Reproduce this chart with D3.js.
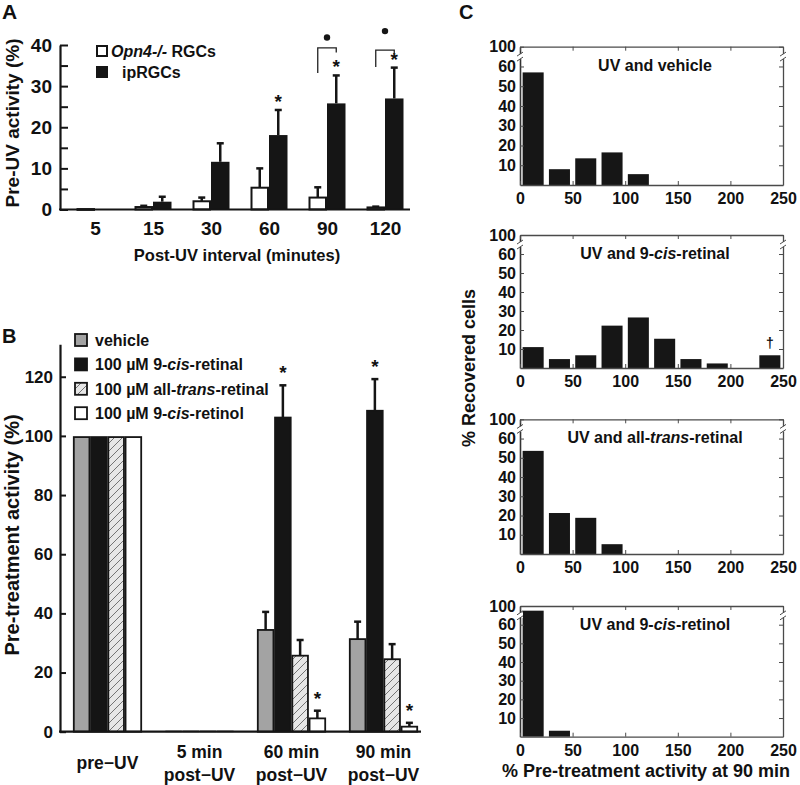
<!DOCTYPE html>
<html><head><meta charset="utf-8">
<script src="https://cdn.jsdelivr.net/npm/d3@7"></script>
<style>
body{margin:0;background:#fff}
svg text{font-family:"Liberation Sans",Arial,Helvetica,sans-serif;font-weight:bold;fill:#111}
</style></head><body>
<svg id="fig" width="800" height="785" xmlns="http://www.w3.org/2000/svg"></svg>
<script>
// ---------- Panel A data ----------
const aIntervals = ["5","15","30","60","90","120"];
const aSeries = ["Opn4","ipRGC"];
const aOpn4Mean = [0.1,0.6,2.0,5.3,2.9,0.5];
const aOpn4Err  = [0,0.3,0.9,4.7,2.5,0.2];
const aIpMean   = [0.1,1.9,11.6,18.1,25.8,27.0];
const aIpErr    = [0,1.2,4.5,6.1,6.8,7.5];
const aTicks    = [0,5,10,15,20,25,30,35,40];
const aStars    = ["60","90","120"];
const aBrackets = ["90","120"];

// ---------- Panel B data ----------
const bKeys   = ["pre","5","60","90"];
const bLabels = [["pre\u2212UV"],["5 min","post\u2212UV"],["60 min","post\u2212UV"],["90 min","post\u2212UV"]];
const bSeries = ["vehicle","cisRetinal","transRetinal","cisRetinol"];
const bVehicle      = [99.6,0.2,34.4,31.3];
const bVehicleErr   = [0,0,6.1,5.9];
const bCisRetinal   = [99.6,0.2,106.2,108.5];
const bCisRetinalErr= [0,0,10.9,10.7];
const bTransRetinal = [99.6,0.2,25.7,24.5];
const bTransRetinalErr=[0,0,5.3,5.1];
const bCisRetinol   = [99.6,0.2,4.5,1.7];
const bCisRetinolErr= [0,0,2.6,1.3];
const bTicks = [0,20,40,60,80,100,120];
const bStars = [["cisRetinal","60"],["cisRetinal","90"],["cisRetinol","60"],["cisRetinol","90"]];

// ---------- Panel C data ----------
const cBinCenters = [12.5,37.5,62.5,87.5,112.5,137.5,162.5,187.5,212.5,237.5];
const cVehicle      = [57,8,13.5,16.5,5.5,0,0,0,0,0];
const cCisRetinal   = [11,4.7,6.7,22.3,26.6,15.4,4.7,2.4,0,6.7];
const cTransRetinal = [53.6,21.3,18.8,5.1,0,0,0,0,0,0];
const cCisRetinol   = [90,3.2,0,0,0,0,0,0,0,0];
const cXTicks = [0,50,100,150,200,250];
const cYTicks = [10,20,30,40,50,60,100];

const svg = d3.select("#fig");
svg.append("rect").attr("width",800).attr("height",785).attr("fill","#fff");

const defs = svg.append("defs");
const pat = defs.append("pattern").attr("id","hatch").attr("patternUnits","userSpaceOnUse")
  .attr("width",8).attr("height",8);
pat.append("rect").attr("width",8).attr("height",8).attr("fill","#e6e6e6");
pat.append("path").attr("d","M-2,2 L2,-2 M0,8 L8,0 M6,10 L10,6").attr("stroke","#555").attr("stroke-width",0.8);

function rich(textSel, parts){
  parts.forEach(p=>{
    const t = textSel.append("tspan").text(p[0]);
    if(p[1]) t.attr("font-style","italic");
  });
  return textSel;
}
const INK = "#151515";

// ================= PANEL A =================
const gA = svg.append("g");
const xA = d3.scalePoint().domain(aIntervals).range([66,414]).padding(0.5);
const xAin = d3.scaleBand().domain(aSeries).range([-18.5,18.5]);
const yA = d3.scaleLinear().domain([0,40]).range([209.5,45]);

const aData = aIntervals.map((k,i)=>[
  {k, s:"Opn4", m:aOpn4Mean[i], e:aOpn4Err[i]},
  {k, s:"ipRGC", m:aIpMean[i], e:aIpErr[i]}
]).flat();

aData.filter(d=>d.e>0).forEach(d=>{
  const cx = xA(d.k)+xAin(d.s)+xAin.bandwidth()/2;
  gA.append("line").attr("x1",cx).attr("x2",cx).attr("y1",yA(d.m)).attr("y2",yA(d.m+d.e))
    .attr("stroke",INK).attr("stroke-width",2.5);
  gA.append("line").attr("x1",cx-3.5).attr("x2",cx+3.5).attr("y1",yA(d.m+d.e)).attr("y2",yA(d.m+d.e))
    .attr("stroke",INK).attr("stroke-width",2.5);
});
gA.selectAll("rect.bar").data(aData).join("rect").attr("class","bar")
  .attr("x",d=>xA(d.k)+xAin(d.s)+(d.s==="Opn4"?1:0))
  .attr("width",d=>xAin.bandwidth()-(d.s==="Opn4"?2:0))
  .attr("y",d=>yA(d.m))
  .attr("height",d=>Math.max(0.8,yA(0)-yA(d.m)))
  .attr("fill",d=>d.s==="Opn4"?"#fff":INK)
  .attr("stroke",d=>d.s==="Opn4"?INK:"none")
  .attr("stroke-width",2);

const axA = gA.append("g").attr("transform","translate(60,0)")
  .call(d3.axisLeft(yA).tickValues(aTicks).tickSize(-8).tickSizeOuter(0).tickPadding(8)
    .tickFormat(d=>d%10===0?d:""));
axA.select(".domain").attr("stroke",INK).attr("stroke-width",2.2);
axA.selectAll(".tick line").attr("stroke",INK).attr("stroke-width",2);
axA.selectAll("text").attr("font-size",19);

const axAx = gA.append("g").attr("transform",`translate(0,${yA(0)})`)
  .call(d3.axisBottom(xA).tickSize(0).tickPadding(12));
axAx.select(".domain").remove();
axAx.selectAll("text").attr("font-size",19);
gA.append("line").attr("x1",59).attr("x2",410).attr("y1",yA(0)).attr("y2",yA(0))
  .attr("stroke",INK).attr("stroke-width",2.2);

aStars.forEach(k=>{
  const i = aIntervals.indexOf(k);
  const cx = xA(k)+xAin("ipRGC")+xAin.bandwidth()/2;
  gA.append("text").attr("x",cx).attr("y",yA(aIpMean[i]+aIpErr[i])-13+11)
    .attr("text-anchor","middle").attr("font-size",19).text("*");
});
aBrackets.forEach((k,j)=>{
  const i = aIntervals.indexOf(k);
  const x1 = xA(k)+xAin("Opn4")+xAin.bandwidth()/2;
  const x2 = xA(k)+xAin("ipRGC")+xAin.bandwidth()/2;
  const top = yA(aIpMean[i]+aIpErr[i]) - (j===0?27.5:17.5);
  gA.append("path").attr("d",`M${x1},${top+25 - (j===0?0:8)} V${top} H${x2} V${top+4.5}`)
    .attr("fill","none").attr("stroke","#222").attr("stroke-width",1.3);
  gA.append("circle").attr("cx",(x1+x2)/2).attr("cy",top-(j===0?10.5:19)).attr("r",3.2).attr("fill",INK);
});

gA.append("rect").attr("x",97).attr("y",46).attr("width",10).attr("height",10)
  .attr("fill","#fff").attr("stroke",INK).attr("stroke-width",2);
gA.append("rect").attr("x",96).attr("y",66).attr("width",12).attr("height",12).attr("fill",INK);
rich(gA.append("text").attr("x",111).attr("y",57).attr("font-size",16),[["Opn4-/-",true],[" RGCs",false]]);
gA.append("text").attr("x",122).attr("y",78).attr("font-size",16).text("ipRGCs");

gA.append("text").attr("x",237).attr("y",261).attr("text-anchor","middle").attr("font-size",16.5)
  .text("Post-UV interval (minutes)");
gA.append("text").attr("transform","translate(19,123) rotate(-90)").attr("text-anchor","middle")
  .attr("font-size",19).text("Pre-UV activity (%)");
svg.append("text").attr("x",2).attr("y",19).attr("font-size",21).text("A");

// ================= PANEL B =================
const gB = svg.append("g");
const xB = d3.scalePoint().domain(bKeys).range([61.5,429.5]).padding(0.5);
const xBin = d3.scaleBand().domain(bSeries).range([-34.5,34.5]);
const yB = d3.scaleLinear().domain([0,131]).range([731.7,731.7-131*2.958]);
const bMeans = {vehicle:bVehicle, cisRetinal:bCisRetinal, transRetinal:bTransRetinal, cisRetinol:bCisRetinol};
const bErrs  = {vehicle:bVehicleErr, cisRetinal:bCisRetinalErr, transRetinal:bTransRetinalErr, cisRetinol:bCisRetinolErr};
const bFill  = {vehicle:"#a3a3a3", cisRetinal:INK, transRetinal:"url(#hatch)", cisRetinol:"#fff"};
const bData = bKeys.map((k,i)=>bSeries.map(s=>({k,s,m:bMeans[s][i],e:bErrs[s][i]}))).flat();

bData.filter(d=>d.e>0).forEach(d=>{
  const cx = xB(d.k)+xBin(d.s)+xBin.bandwidth()/2;
  gB.append("line").attr("x1",cx).attr("x2",cx).attr("y1",yB(d.m)).attr("y2",yB(d.m+d.e))
    .attr("stroke",INK).attr("stroke-width",2.5);
  gB.append("line").attr("x1",cx-3.5).attr("x2",cx+3.5).attr("y1",yB(d.m+d.e)).attr("y2",yB(d.m+d.e))
    .attr("stroke",INK).attr("stroke-width",2.5);
});
gB.selectAll("rect.bar").data(bData).join("rect").attr("class","bar")
  .attr("x",d=>xB(d.k)+xBin(d.s)+0.8)
  .attr("width",xBin.bandwidth()-1.6)
  .attr("y",d=>yB(d.m))
  .attr("height",d=>yB(0)-yB(d.m))
  .attr("fill",d=>bFill[d.s])
  .attr("stroke",INK).attr("stroke-width",d=>d.m>1?1.8:0.8);

const axB = gB.append("g").attr("transform","translate(60,0)")
  .call(d3.axisLeft(yB).tickValues(bTicks).tickSize(-6).tickSizeOuter(0).tickPadding(7));
axB.select(".domain").attr("stroke",INK).attr("stroke-width",2.2);
axB.selectAll(".tick line").attr("stroke",INK).attr("stroke-width",2);
axB.selectAll("text").attr("font-size",17);
gB.append("line").attr("x1",59).attr("x2",421).attr("y1",yB(0)).attr("y2",yB(0))
  .attr("stroke",INK).attr("stroke-width",2.2);

bKeys.forEach((k,i)=>{
  const lines = bLabels[i];
  lines.forEach((l,j)=>{
    const y = lines.length===1 ? 769 : 758 + j*23;
    gB.append("text").attr("x",xB(k)).attr("y",y).attr("text-anchor","middle")
      .attr("font-size",17.5).text(l);
  });
});
bStars.forEach(([s,k])=>{
  const i = bKeys.indexOf(k);
  const cx = xB(k)+xBin(s)+xBin.bandwidth()/2;
  gB.append("text").attr("x",cx).attr("y",yB(bMeans[s][i]+bErrs[s][i])-17+11)
    .attr("text-anchor","middle").attr("font-size",19).text("*");
});

const bLegend = [
  ["vehicle",[["vehicle",false]]],
  ["cisRetinal",[["100 \u00b5M 9-",false],["cis",true],["-retinal",false]]],
  ["transRetinal",[["100 \u00b5M all-",false],["trans",true],["-retinal",false]]],
  ["cisRetinol",[["100 \u00b5M 9-",false],["cis",true],["-retinol",false]]]
];
bLegend.forEach(([s,parts],i)=>{
  const cy = 340 + i*24.4;
  gB.append("rect").attr("x",75).attr("y",cy-6).attr("width",12).attr("height",12)
    .attr("fill",bFill[s]).attr("stroke",INK).attr("stroke-width",1.8);
  rich(gB.append("text").attr("x",95).attr("y",cy+6).attr("font-size",16),parts);
});
gB.append("text").attr("transform","translate(19,535) rotate(-90)").attr("text-anchor","middle")
  .attr("font-size",20).text("Pre-treatment activity (%)");
svg.append("text").attr("x",2).attr("y",343).attr("font-size",20).text("B");

// ================= PANEL C =================
const xC = d3.scaleLinear().domain([0,250]).range([520,783]);
const cTops  = [46.7,235,419.3,606];
const cBases = [185,368,554,736.7];
const cPanels = [
  {vals:cVehicle, title:[["UV and vehicle",false]]},
  {vals:cCisRetinal, title:[["UV and 9-",false],["cis",true],["-retinal",false]], dagger:9},
  {vals:cTransRetinal, title:[["UV and all-",false],["trans",true],["-retinal",false]]},
  {vals:cCisRetinol, title:[["UV and 9-",false],["cis",true],["-retinol",false]]}
];
const AX = "#4a4a4a";
cPanels.forEach((p,pi)=>{
  const g = svg.append("g");
  const top = cTops[pi], base = cBases[pi];
  const y60 = base - 0.857*(base-top);
  const yC = d3.scaleLinear().domain([0,60,100]).range([base,y60,top]);
  const bw = xC(20)-xC(0);
  g.selectAll("rect.bar").data(p.vals.map((v,i)=>({c:cBinCenters[i],v})).filter(d=>d.v>0))
    .join("rect").attr("class","bar")
    .attr("x",d=>xC(d.c)-bw/2).attr("width",bw)
    .attr("y",d=>yC(d.v)).attr("height",d=>base-yC(d.v))
    .attr("fill","#161616");
  const axL = g.append("g").attr("transform","translate(520,0)")
    .call(d3.axisLeft(yC).tickValues(cYTicks).tickSize(-4).tickSizeOuter(0).tickPadding(4));
  const axR = g.append("g").attr("transform","translate(783,0)")
    .call(d3.axisRight(yC).tickValues(cYTicks).tickSize(-4).tickSizeOuter(0).tickFormat(""));
  const axBt = g.append("g").attr("transform",`translate(0,${base})`)
    .call(d3.axisBottom(xC).tickValues(cXTicks).tickSize(-4).tickSizeOuter(0).tickPadding(7.5));
  const axT = g.append("g").attr("transform",`translate(0,${top})`)
    .call(d3.axisTop(xC).tickValues(cXTicks).tickSize(-4).tickSizeOuter(0).tickFormat(""));
  [axL,axR,axBt,axT].forEach(a=>{
    a.select(".domain").attr("stroke",AX).attr("stroke-width",1.3);
    a.selectAll(".tick line").attr("stroke",AX).attr("stroke-width",1);
    a.selectAll("text").attr("font-size",16);
  });
  axL.select(".domain").attr("stroke","#333").attr("stroke-width",1.6);
  const yb = (y60+top)/2;
  [520,783].forEach(xx=>{
    g.append("rect").attr("x",xx-3).attr("y",yb-2.5).attr("width",6).attr("height",5).attr("fill","#fff");
    g.append("path").attr("d",`M${xx-3},${yb-0.5} L${xx+3},${yb-4.5} M${xx-3},${yb+4.5} L${xx+3},${yb+0.5}`)
      .attr("stroke",AX).attr("stroke-width",1).attr("fill","none");
  });
  rich(g.append("text").attr("x",655).attr("y",top+24).attr("text-anchor","middle").attr("font-size",16),p.title);
  if(p.dagger!==undefined){
    g.append("text").attr("x",xC(cBinCenters[p.dagger])).attr("y",yC(p.vals[p.dagger])-7)
      .attr("text-anchor","middle").attr("font-size",14).attr("font-weight","normal").text("\u2020");
  }
});
svg.append("text").attr("transform","translate(475,368) rotate(-90)").attr("text-anchor","middle")
  .attr("font-size",18).text("% Recovered cells");
svg.append("text").attr("x",646).attr("y",777).attr("text-anchor","middle").attr("font-size",18)
  .text("% Pre-treatment activity at 90 min");
svg.append("text").attr("x",459).attr("y",19).attr("font-size",20).text("C");
</script>
</body></html>
